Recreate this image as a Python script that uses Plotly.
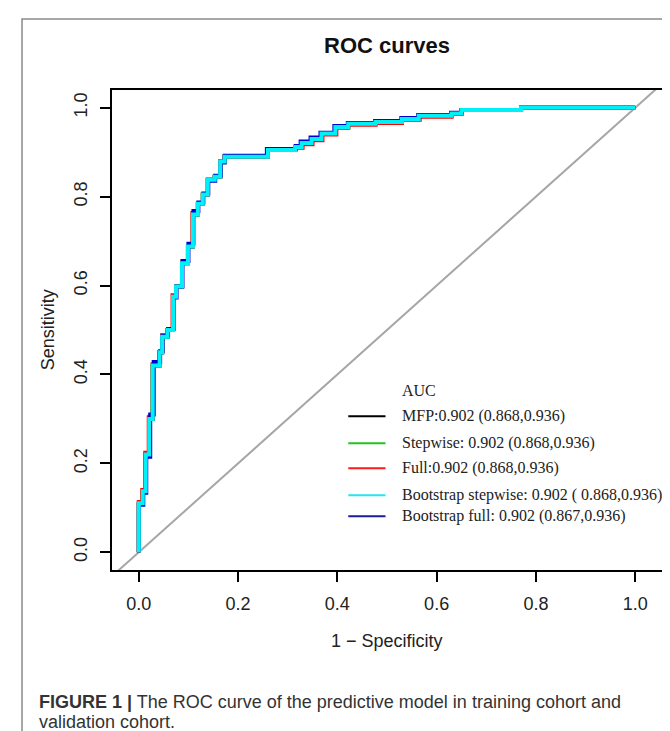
import plotly.graph_objects as go

# ---------------- data ----------------
title_text = "ROC curves"
x_title = "1 \u2212 Specificity"
y_title = "Sensitivity"
tick_vals = [0.0, 0.2, 0.4, 0.6, 0.8, 1.0]
tick_text = ["0.0", "0.2", "0.4", "0.6", "0.8", "1.0"]

# ROC step corners (false positive rate, true positive rate)
fpr_mfp = [0, 0, 0.008, 0.014, 0.021, 0.028, 0.042, 0.047, 0.058, 0.069, 0.075, 0.087, 0.099,
           0.109, 0.119, 0.129, 0.139, 0.153, 0.164, 0.173, 0.26, 0.315, 0.328, 0.348, 0.368,
           0.396, 0.422, 0.477, 0.53, 0.564, 0.63, 0.65, 0.77, 1.0]
tpr_mfp = [0, 0.11, 0.137, 0.22, 0.30, 0.42, 0.45, 0.485, 0.50, 0.575, 0.598, 0.65, 0.688,
           0.76, 0.784, 0.805, 0.838, 0.845, 0.879, 0.89, 0.905, 0.912, 0.921, 0.93, 0.942,
           0.957, 0.964, 0.968, 0.975, 0.982, 0.987, 0.995, 1.0, 1.0]

fpr_stepwise = [0, 0, 0.008, 0.014, 0.021, 0.028, 0.042, 0.047, 0.058, 0.069, 0.075, 0.087, 0.099,
                0.109, 0.119, 0.129, 0.139, 0.153, 0.164, 0.173, 0.26, 0.315, 0.328, 0.348, 0.368,
                0.396, 0.422, 0.477, 0.53, 0.564, 0.63, 0.65, 0.77, 1.0]
tpr_stepwise = [0, 0.11, 0.137, 0.22, 0.305, 0.42, 0.45, 0.485, 0.50, 0.575, 0.598, 0.65, 0.688,
                0.76, 0.784, 0.805, 0.838, 0.845, 0.879, 0.89, 0.905, 0.912, 0.921, 0.93, 0.942,
                0.957, 0.964, 0.968, 0.975, 0.982, 0.987, 0.995, 1.0, 1.0]

fpr_full = [0, 0, 0.007, 0.013, 0.020, 0.028, 0.041, 0.047, 0.058, 0.068, 0.075, 0.087, 0.099,
            0.108, 0.119, 0.129, 0.139, 0.153, 0.164, 0.173, 0.26, 0.315, 0.33, 0.35, 0.37,
            0.398, 0.422, 0.477, 0.53, 0.566, 0.63, 0.65, 0.77, 1.0]
tpr_full = [0, 0.113, 0.14, 0.224, 0.303, 0.423, 0.45, 0.488, 0.50, 0.578, 0.598, 0.652, 0.688,
            0.763, 0.784, 0.805, 0.838, 0.845, 0.879, 0.89, 0.905, 0.91, 0.918, 0.927, 0.94,
            0.955, 0.962, 0.966, 0.973, 0.98, 0.986, 0.995, 1.0, 1.0]

fpr_boot_full = [0, 0, 0.009, 0.015, 0.023, 0.030, 0.043, 0.048, 0.059, 0.070, 0.076, 0.088, 0.100,
                 0.110, 0.120, 0.130, 0.140, 0.154, 0.165, 0.173, 0.258, 0.316, 0.326, 0.346, 0.366,
                 0.394, 0.421, 0.476, 0.529, 0.563, 0.629, 0.65, 0.77, 1.0]
tpr_boot_full = [0, 0.107, 0.134, 0.215, 0.31, 0.428, 0.452, 0.487, 0.502, 0.573, 0.598, 0.655, 0.694,
                 0.768, 0.787, 0.807, 0.836, 0.847, 0.877, 0.892, 0.907, 0.914, 0.924, 0.933, 0.944,
                 0.959, 0.966, 0.97, 0.977, 0.984, 0.989, 0.995, 1.0, 1.0]

fpr_boot_step = [0, 0, 0.008, 0.014, 0.021, 0.028, 0.042, 0.047, 0.058, 0.069, 0.075, 0.087, 0.099,
                 0.109, 0.119, 0.129, 0.139, 0.153, 0.164, 0.173, 0.26, 0.315, 0.328, 0.348, 0.368,
                 0.396, 0.422, 0.477, 0.53, 0.564, 0.63, 0.65, 0.77, 1.0]
tpr_boot_step = [0, 0.11, 0.137, 0.22, 0.30, 0.42, 0.45, 0.485, 0.50, 0.575, 0.598, 0.65, 0.688,
                 0.76, 0.784, 0.805, 0.838, 0.845, 0.879, 0.89, 0.905, 0.912, 0.921, 0.93, 0.942,
                 0.957, 0.964, 0.968, 0.975, 0.982, 0.987, 0.995, 1.0, 1.0]

diag_x = [-0.2, 1.2]
diag_y = [-0.2, 1.2]

legend_title = "AUC"
legend_labels = [
    "MFP:0.902 (0.868,0.936)",
    "Stepwise: 0.902 (0.868,0.936)",
    "Full:0.902 (0.868,0.936)",
    "Bootstrap stepwise: 0.902 ( 0.868,0.936)",
    "Bootstrap full: 0.902 (0.867,0.936)",
]
legend_colors = ["#000000", "#1cc41c", "#ff1a1a", "#22e6f0", "#1c1c9c"]
legend_y = [0.306, 0.245, 0.189, 0.128, 0.081]
legend_title_y = 0.364

caption_line1 = "<b>FIGURE 1 |</b> The ROC curve of the predictive model in training cohort and"
caption_line2 = "validation cohort."

# ---------------- figure ----------------
fig = go.Figure()

fig.add_trace(go.Scatter(x=diag_x, y=diag_y, mode="lines",
                         line=dict(color="#a6a6a6", width=2), hoverinfo="skip"))

curves = [
    (fpr_mfp, tpr_mfp, "#000000"),
    (fpr_stepwise, tpr_stepwise, "#00d000"),
    (fpr_full, tpr_full, "#ff0000"),
    (fpr_boot_full, tpr_boot_full, "#0000d0"),
    (fpr_boot_step, tpr_boot_step, "#00f0f8"),
]
for fx, ty, col in curves:
    fig.add_trace(go.Scatter(x=fx, y=ty, mode="lines", line_shape="hv",
                             line=dict(color=col, width=4)))

sans = "Liberation Sans, Arial"
serif = "Liberation Serif, Times New Roman"

axis_common = dict(
    showgrid=False, zeroline=False, showline=True, mirror=True,
    linecolor="#000000", linewidth=2, ticks="outside", ticklen=10,
    tickwidth=1.5, tickcolor="#000000", tickvals=tick_vals, ticktext=tick_text,
    tickfont=dict(family=sans, size=18, color="#222222"),
)
fig.update_xaxes(range=[-0.054, 1.054], ticklabelstandoff=6, **axis_common)
fig.update_yaxes(range=[-0.04, 1.04], tickangle=-90, ticklabelstandoff=6, **axis_common)

annotations = [
    dict(text="<b>" + title_text + "</b>", x=0.5, y=1.0917, xref="paper", yref="paper",
         showarrow=False, font=dict(family=sans, size=22, color="#111111"),
         xanchor="center", yanchor="middle"),
    dict(text=x_title, x=0.5, y=-0.148, xref="paper", yref="paper", showarrow=False,
         font=dict(family=sans, size=18, color="#222222"),
         xanchor="center", yanchor="middle"),
    dict(text=y_title, x=-0.116, y=0.5, xref="paper", yref="paper", showarrow=False,
         textangle=-90, font=dict(family=sans, size=18, color="#222222"),
         xanchor="center", yanchor="middle"),
    dict(text=caption_line1, x=-0.136, y=-0.274, xref="paper", yref="paper", showarrow=False,
         align="left", xanchor="left", yanchor="middle",
         font=dict(family=sans, size=18, color="#333333")),
    dict(text=caption_line2, x=-0.136, y=-0.316, xref="paper", yref="paper", showarrow=False,
         align="left", xanchor="left", yanchor="middle",
         font=dict(family=sans, size=18, color="#333333")),
    dict(text=legend_title, x=0.527, y=legend_title_y, xref="x", yref="y", showarrow=False,
         xanchor="left", yanchor="middle",
         font=dict(family=serif, size=16, color="#222222")),
]
shapes = []
for lab, col, ly in zip(legend_labels, legend_colors, legend_y):
    annotations.append(dict(text=lab, x=0.527, y=ly, xref="x", yref="y", showarrow=False,
                            xanchor="left", yanchor="middle",
                            font=dict(family=serif, size=16, color="#222222")))
    shapes.append(dict(type="line", xref="x", yref="y", x0=0.422, x1=0.497, y0=ly, y1=ly,
                       line=dict(color=col, width=2)))

# outer figure frame
shapes.append(dict(type="rect", xref="paper", yref="paper", x0=-0.1636, x1=1.0255,
                   y0=-0.37, y1=1.148, line=dict(color="#8a8a8a", width=1.5), layer="below"))

fig.update_layout(
    width=670, height=731,
    margin=dict(l=104, r=16, t=82, b=169),
    paper_bgcolor="white", plot_bgcolor="white",
    showlegend=False,
    annotations=annotations,
    shapes=shapes,
)

fig.write_html("out.html")
